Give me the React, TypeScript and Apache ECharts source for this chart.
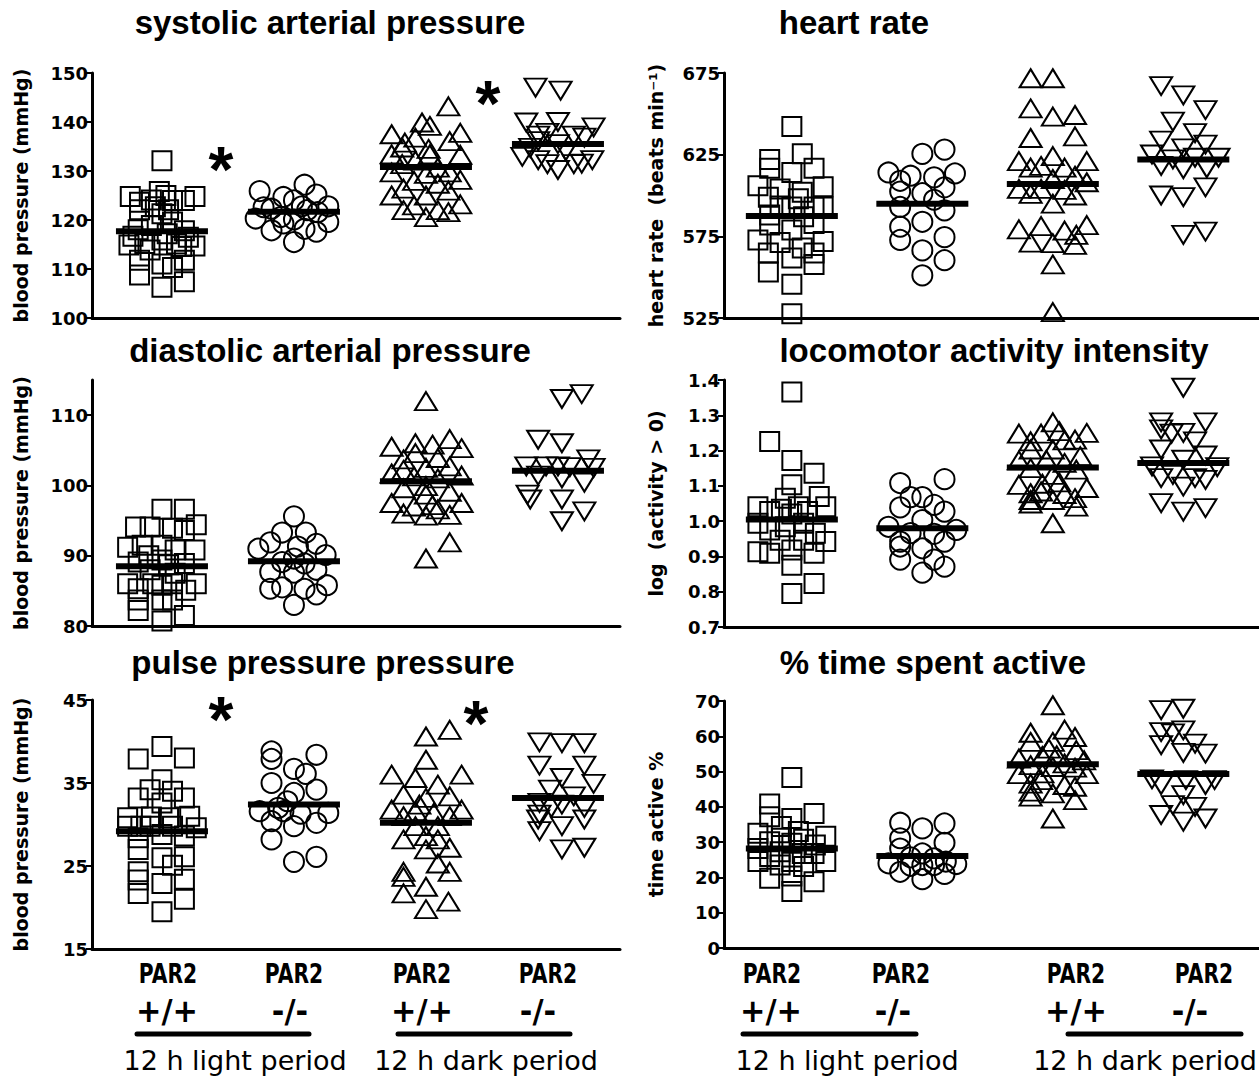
import React, { useEffect, useRef } from "react";
import * as echarts from "echarts";

// ---------- data: [horizontal jitter within group, value] ----------
const sysSq = [[0,132.1],[-0.24,124.8],[0.25,124.8],[-0.02,125.8],[0.03,125.0],[-0.17,123.6],[0.17,124.0],[-0.08,124.1],[0.08,124.0],[0,121.3],[0.08,119.6],[-0.18,118.0],[0.17,117.8],[-0.08,118.9],[-0.25,114.9],[0.25,114.7],[-0.13,115.2],[0,115.9],[0.11,115.1],[-0.09,113.9],[-0.17,111.8],[0.17,111.8],[0,111.0],[0.08,110.3],[-0.17,108.8],[0.17,107.4],[0,106.3],[-0.22,116.7],[0.2,116.5],[0.04,117.2],[-0.17,122.1],[0.15,114.6],[-0.05,122.7],[0.05,122.1]];
const sysCi = [[-0.26,125.9],[0.08,127.2],[0.17,125.2],[-0.08,124.7],[0,124.0],[-0.23,122.6],[0.26,122.8],[-0.17,122.3],[0.06,122.8],[0.18,121.6],[-0.29,120.3],[-0.1,120.6],[0,120.1],[0.26,119.6],[-0.17,117.9],[-0.08,119.3],[0.08,118.2],[0.17,117.6],[0,115.5],[0.1,122.0]];
const sysTu = [[0.17,143.2],[-0.03,139.9],[0.03,139.2],[-0.26,137.5],[-0.08,136.8],[0.26,137.8],[0.18,136.1],[-0.16,135.8],[-0.18,134.8],[0.02,134.5],[-0.26,133.4],[0.26,133.3],[0.03,133.4],[-0.08,132.1],[-0.18,131.4],[0.09,130.7],[0,129.4],[-0.26,129.7],[0.26,128.2],[0.18,129.7],[-0.09,128.0],[0.09,127.4],[-0.17,126.4],[0.17,126.0],[0,125.0],[-0.26,125.0],[-0.09,123.0],[0.26,123.2],[-0.17,122.0],[0.09,122.0],[0.17,121.6],[0,120.6]];
const sysTd = [[-0.17,147.0],[0.02,146.4],[-0.24,139.9],[0,140.0],[0.27,138.9],[-0.15,137.2],[0.12,137.2],[-0.08,137.8],[-0.15,136.1],[0.2,136.8],[0,135.5],[-0.27,132.9],[0.26,132.2],[-0.15,132.2],[-0.08,131.4],[0.12,131.4],[0.18,131.5],[0,130.2],[-0.21,134.7],[0.06,134.1]];
const sysMeans = [117.7, 121.7, 130.8, 135.5];

const hrSq = [[0,642.2],[-0.17,622.1],[0.08,625.5],[-0.17,616.7],[0.17,616.7],[0,614.1],[-0.26,606.0],[0.24,605.4],[-0.09,604.0],[0.08,602.0],[-0.18,599.0],[0.17,593.0],[0,593.0],[0.24,593.0],[-0.17,588.0],[-0.09,593.5],[0.09,587.0],[-0.17,581.9],[0.17,582.9],[0,578.9],[-0.26,572.8],[0.24,571.8],[-0.09,571.2],[0.08,567.8],[-0.18,564.8],[0,561.8],[0.17,557.8],[-0.18,553.1],[0,545.7],[0,527.6],[0.17,564.8],[0.05,598.0]];
const hrCi = [[0,625.5],[0.17,628.1],[-0.26,614.1],[-0.09,612.1],[0.09,611.1],[0.25,613.5],[-0.17,609.0],[0.17,605.0],[-0.17,602.4],[0,601.4],[0.09,597.4],[-0.17,593.0],[0.17,590.9],[0,583.9],[-0.17,580.9],[0.17,574.5],[-0.17,572.8],[0,566.4],[0.17,560.4],[0,551.1]];
const hrTu = [[-0.17,671.8],[0,671.8],[-0.17,653.3],[0,648.3],[0.17,649.3],[-0.17,635.2],[0.17,636.2],[-0.26,621.1],[0,624.1],[0.26,621.1],[-0.17,617.1],[-0.09,618.1],[0.09,617.1],[0.17,612.1],[0,610.1],[0.26,608.1],[-0.26,604.0],[-0.09,604.0],[0.09,603.4],[-0.17,601.0],[0.17,600.0],[0,595.0],[0.26,581.9],[-0.26,579.3],[-0.09,581.3],[0.09,578.5],[0.18,575.9],[-0.17,571.2],[0,570.8],[0.17,569.8],[0,557.8],[0,528.6]];
const hrTd = [[-0.17,667.0],[0,661.3],[0.17,652.3],[-0.08,645.2],[0.09,638.2],[-0.17,633.6],[0.17,631.2],[0,628.8],[-0.24,625.1],[-0.08,622.1],[0.27,623.1],[-0.17,618.1],[0,616.1],[0.18,616.7],[0.09,623.1],[0.17,605.0],[-0.17,600.0],[0,599.0],[0,575.9],[0.17,577.9]];
const hrMeans = [587.5, 595.0, 607.0, 622.1];

const diaSq = [[0,96.6],[0.17,96.6],[-0.2,94.1],[-0.09,94.1],[0.08,93.9],[0.17,93.6],[0.26,94.4],[-0.26,91.2],[-0.15,91.5],[0,91.5],[0.25,90.8],[0.1,90.8],[-0.18,89.1],[0,89.4],[0.17,88.9],[-0.26,86.0],[-0.18,85.3],[0,85.8],[0.08,86.0],[0.26,86.0],[-0.09,88.0],[0.1,87.5],[0.18,85.1],[-0.18,83.7],[0,83.7],[0.08,83.7],[-0.18,82.2],[0.17,81.5],[0,80.7],[-0.1,90.0],[0.05,88.7],[-0.07,86.0]];
const diaCi = [[0,95.6],[-0.09,93.3],[0.09,93.3],[-0.18,91.9],[-0.27,91.0],[0.17,91.7],[0.03,91.3],[0.24,90.1],[0,89.6],[-0.09,89.1],[-0.18,87.7],[0.08,88.9],[0.17,88.0],[0,87.6],[-0.18,85.3],[-0.09,85.5],[0.08,85.3],[0.25,85.8],[0.17,84.5],[0,83.0]];
const diaTu = [[0,112.0],[0.18,106.6],[-0.08,106.0],[0.05,105.8],[-0.26,105.5],[0.27,105.3],[-0.08,104.6],[0.09,103.9],[-0.17,103.7],[0.18,102.7],[0,102.5],[-0.17,102.2],[-0.26,101.7],[0.27,101.4],[-0.09,101.3],[0.09,101.0],[-0.17,99.6],[0,99.9],[0.18,99.1],[0,98.7],[-0.26,97.5],[0.27,97.5],[-0.09,97.0],[0.09,96.6],[-0.17,96.0],[0,95.7],[0.18,95.8],[0.18,91.9],[0,89.6],[0.05,97.2]];
const diaTd = [[0.03,112.3],[0.18,113.0],[-0.15,106.5],[0.03,106.0],[-0.24,102.7],[-0.09,102.7],[0,102.7],[0.09,102.6],[0.23,103.7],[0.27,102.5],[-0.15,101.4],[0.03,101.0],[0.2,100.4],[-0.23,98.7],[-0.21,98.0],[0.03,98.0],[0.2,96.3],[0.03,94.9]];
const diaMeans = [88.5, 89.2, 100.6, 102.1];

const locSq = [[0,1.366],[-0.17,1.226],[0,1.172],[0.17,1.136],[0,1.103],[-0.05,1.065],[0.21,1.07],[-0.26,1.041],[0.26,1.041],[-0.17,1.027],[-0.08,1.034],[0.05,1.041],[0.12,1.027],[0,1.02],[-0.26,0.994],[0.09,0.994],[-0.17,0.975],[-0.09,0.946],[0.09,0.946],[0.26,0.942],[-0.26,0.913],[-0.17,0.909],[0,0.918],[0.17,0.909],[0,0.875],[0.17,0.823],[0,0.795],[0.18,0.966],[-0.05,0.984]];
const locCi = [[-0.17,1.108],[0.17,1.119],[0,1.068],[-0.09,1.068],[0.09,1.046],[-0.17,1.039],[0.17,1.027],[0,1.003],[-0.26,0.984],[0.26,0.975],[-0.09,0.966],[0.09,0.964],[-0.17,0.942],[0.17,0.942],[0,0.923],[-0.17,0.891],[0.09,0.891],[0.17,0.871],[0,0.854],[-0.17,0.928]];
const locTu = [[0,1.28],[0.05,1.255],[-0.26,1.248],[-0.09,1.248],[0.26,1.25],[-0.17,1.226],[0.09,1.229],[0.17,1.231],[-0.17,1.203],[0,1.203],[0.21,1.184],[-0.26,1.172],[-0.05,1.174],[0.09,1.165],[-0.17,1.15],[0.18,1.146],[0,1.131],[-0.26,1.103],[-0.08,1.106],[0.05,1.11],[0.26,1.094],[-0.17,1.079],[-0.09,1.084],[0.09,1.077],[-0.17,1.06],[0,1.06],[0.17,1.065],[0.18,1.041],[0,0.994],[-0.17,1.05]];
const locTd = [[0,1.378],[-0.17,1.28],[0.17,1.28],[-0.17,1.26],[-0.09,1.248],[0,1.25],[0.09,1.226],[-0.17,1.203],[0,1.174],[0.17,1.186],[-0.24,1.155],[0.26,1.153],[-0.17,1.122],[-0.08,1.131],[0.09,1.122],[0.17,1.117],[0,1.098],[-0.17,1.051],[0,1.027],[0.17,1.037]];
const locMeans = [1.005, 0.98, 1.152, 1.165];

const ppSq = [[0,39.4],[-0.18,37.9],[0.17,38.0],[0,35.4],[-0.09,34.2],[0.08,34.0],[-0.18,33.2],[0.17,33.2],[0,32.6],[-0.26,30.8],[-0.08,30.9],[0.05,30.8],[0.21,31.0],[-0.16,29.8],[0.08,29.8],[0.26,29.6],[0,28.8],[-0.18,28.4],[0.17,28.6],[-0.18,27.0],[0,26.0],[0.17,26.1],[0.08,25.1],[-0.18,24.3],[-0.18,23.3],[0.17,23.4],[0,22.9],[-0.18,21.7],[0.17,21.0],[0,19.5],[-0.09,29.8],[-0.26,29.8]];
const ppCi = [[-0.17,38.8],[-0.17,37.9],[0.17,38.4],[0,36.7],[0.09,36.1],[-0.17,35.0],[0.17,34.2],[0,33.8],[-0.05,32.8],[-0.26,31.6],[-0.12,32.0],[0.05,31.3],[0.26,31.4],[-0.17,30.4],[0,29.8],[0.17,30.2],[-0.17,28.2],[0,25.5],[0.17,26.1],[-0.08,31.6]];
const ppTu = [[0.18,41.4],[0,40.6],[0,37.8],[-0.26,36.0],[-0.08,35.6],[0.27,36.0],[0.09,34.8],[-0.17,33.6],[0.18,33.4],[0,33.2],[-0.05,32.4],[-0.26,31.8],[-0.08,31.6],[0.27,31.8],[0.06,31.4],[-0.17,31.0],[0.18,31.0],[-0.08,29.8],[0.09,29.8],[-0.17,28.2],[0,28.6],[0.09,28.2],[0,27.0],[0.18,27.2],[0.09,25.3],[-0.17,24.3],[-0.17,23.7],[0.18,24.3],[0,22.5],[-0.17,21.7],[0.17,20.7],[0,19.8]];
const ppTd = [[-0.14,39.9],[0.03,39.8],[0.2,39.8],[-0.14,37.1],[0.2,37.1],[0.03,35.6],[0.27,34.9],[-0.06,34.2],[0.12,33.4],[-0.14,32.6],[0.03,32.4],[-0.05,32.0],[0.2,32.0],[-0.14,31.2],[-0.15,30.6],[0.2,30.6],[0.03,29.8],[-0.14,29.2],[0.03,27.0],[0.2,27.2]];
const ppMeans = [29.2, 32.4, 30.2, 33.2];

const taSq = [[0,48.3],[-0.17,40.8],[-0.17,37.2],[0,36.7],[0.17,38.1],[-0.26,32.5],[-0.08,34.4],[0.05,33.0],[0.26,31.7],[-0.17,30.1],[0.09,30.8],[0,29.7],[-0.26,28.2],[0.18,29.2],[-0.09,27.3],[0.08,26.8],[-0.17,25.9],[0.26,24.5],[-0.26,24.5],[0,24.5],[-0.09,23.5],[0.09,23.1],[-0.17,19.8],[0.17,18.8],[0,20.4],[0,16.0],[0.17,26.8],[-0.08,31.1]];
const taCi = [[-0.17,35.5],[0,33.9],[0.17,35.3],[-0.17,31.1],[0.17,29.8],[-0.17,28.2],[0,26.8],[-0.09,25.7],[0.09,25.4],[-0.26,24.0],[0.26,23.8],[-0.17,21.6],[-0.09,23.3],[0.09,23.5],[0.17,21.0],[0,19.5],[0.18,24.5],[0,23.5]];
const taTu = [[0,68.8],[-0.17,61.0],[0.09,61.9],[0.17,59.8],[-0.17,58.4],[0,58.4],[-0.03,56.5],[0.18,56.1],[-0.26,53.7],[-0.08,54.4],[0.03,54.6],[0.24,53.2],[-0.17,51.8],[0,51.3],[0.17,51.1],[-0.26,49.3],[-0.08,49.5],[0.26,49.3],[-0.17,46.6],[0.09,46.2],[-0.09,47.6],[-0.17,44.3],[-0.17,42.9],[0,43.8],[0.17,41.9],[0.17,45.7],[0,36.7],[0.09,52.3]];
const taTd = [[-0.17,67.4],[0,67.8],[-0.17,61.2],[0,61.7],[-0.08,60.8],[-0.17,57.5],[0.09,57.9],[0,55.3],[0.17,55.1],[-0.24,47.8],[-0.17,46.2],[0.02,47.6],[0.17,46.2],[0.24,47.6],[0,43.3],[-0.08,40.5],[0.09,40.0],[-0.17,37.7],[0,35.8],[0.17,36.7]];
const taMeans = [28.2, 26.1, 52.1, 49.3];

const titles = ["systolic arterial pressure", "heart rate", "diastolic arterial pressure", "locomotor activity intensity", "pulse pressure pressure", "% time spent active"];
const yNames = ["blood pressure (mmHg)", "heart rate  (beats min\u207B\u00B9)", "blood pressure (mmHg)", "log  (activity > 0)", "blood pressure (mmHg)", "time active %"];
const yTicks = [[100,110,120,130,140,150],[525,575,625,675],[80,90,100,110],[0.7,0.8,0.9,1.0,1.1,1.2,1.3,1.4],[15,25,35,45],[0,10,20,30,40,50,60,70]];
const yRange = [[100,150],[525,675],[80,115],[0.7,1.4],[15,45],[0,70]];
const groupLabelTop = "PAR2";
const genotypes = ["+/+", "-/-", "+/+", "-/-"];
const periods = ["12 h light period", "12 h dark period"];

const panelGroups = [
  [sysSq, sysCi, sysTu, sysTd],
  [hrSq, hrCi, hrTu, hrTd],
  [diaSq, diaCi, diaTu, diaTd],
  [locSq, locCi, locTu, locTd],
  [ppSq, ppCi, ppTu, ppTd],
  [taSq, taCi, taTu, taTd],
];
const panelMeans = [sysMeans, hrMeans, diaMeans, locMeans, ppMeans, taMeans];

// ---------- layout ----------
const grids = [
  { left: 92, top: 73, width: 528, height: 245 },
  { left: 724, top: 73, width: 535, height: 245 },
  { left: 92, top: 380, width: 528, height: 246 },
  { left: 724, top: 380, width: 535, height: 247 },
  { left: 92, top: 700, width: 528, height: 249 },
  { left: 724, top: 701, width: 535, height: 247 },
];
const xRanges = [[0.47, 4.47], [0.48, 4.58]];
const titlePos = [[330, 22], [854, 22], [330, 350], [994, 350], [323, 662], [933, 662]];
const SYMS = ["rect", "circle", "triangle", "triangle"];
const SIZES: any[] = [19, 20, [22, 18], [22, 18]];

const FONT = '"DejaVu Sans", sans-serif';
const TFONT = '"Liberation Sans", Arial, sans-serif';

function buildOption() {
  const xAxis: any[] = [];
  const yAxis: any[] = [];
  const series: any[] = [];
  const graphic: any[] = [];

  grids.forEach((g, i) => {
    const xr = xRanges[i % 2];
    xAxis.push({
      type: "value", gridIndex: i, min: xr[0], max: xr[1],
      axisLine: { show: true, onZero: false, lineStyle: { color: "#000", width: 3 } },
      axisTick: { show: false }, axisLabel: { show: false }, splitLine: { show: false },
    });
    const ticks = yTicks[i];
    yAxis.push({
      type: "value", gridIndex: i, min: yRange[i][0], max: yRange[i][1],
      interval: i === 3 ? 0.1 : (ticks[1] - ticks[0]),
      axisLine: { show: true, onZero: false, lineStyle: { color: "#000", width: 3 } },
      axisTick: { show: true, length: 6, lineStyle: { color: "#000", width: 2 }, customValues: ticks },
      axisLabel: {
        show: true, color: "#000", fontSize: 18, fontWeight: "bold", fontFamily: FONT, margin: 4,
        customValues: ticks,
        formatter: (v: number) => (i === 3 ? v.toFixed(1) : String(Math.round(v))),
      },
      splitLine: { show: false },
      name: yNames[i], nameLocation: "middle", nameGap: i % 2 === 0 ? 62 : 59, nameRotate: 90,
      nameTextStyle: { color: "#000", fontSize: 19, fontWeight: "bold", fontFamily: FONT },
    });

    panelGroups[i].forEach((grp, gi) => {
      series.push({
        type: "scatter", xAxisIndex: i, yAxisIndex: i, silent: true, z: 2,
        symbol: SYMS[gi], symbolSize: SIZES[gi], symbolRotate: gi === 3 ? 180 : 0,
        itemStyle: { color: "rgba(0,0,0,0)", borderColor: "#000", borderWidth: 2, opacity: 1 },
        emphasis: { disabled: true },
        data: grp.map(([dx, v]) => [gi + 1 + dx, v]),
      });
    });
    series.push({
      type: "scatter", xAxisIndex: i, yAxisIndex: i, silent: true, z: 3,
      symbol: "rect", symbolSize: [92, 6],
      itemStyle: { color: "#000", opacity: 1 }, emphasis: { disabled: true },
      data: panelMeans[i].map((m, gi) => [gi + 1, m]),
    });

    graphic.push({
      type: "text", x: titlePos[i][0], y: titlePos[i][1],
      style: { text: titles[i], fill: "#000", font: `bold 33px ${TFONT}`, align: "center", verticalAlign: "middle", textAlign: "center", textVerticalAlign: "middle" },
    });
  });

  // significance stars
  const stars = [[221, 158], [488, 92], [221, 708], [476, 712]];
  stars.forEach(([x, y]) => {
    graphic.push({
      type: "text", x, y: y + 12,
      style: { text: "*", fill: "#000", font: `bold 64px ${TFONT}`, align: "center", verticalAlign: "middle", textAlign: "center", textVerticalAlign: "middle" },
    });
  });

  // bottom group labels
  const parX = [168, 294, 422, 548, 772, 901, 1076, 1204];
  const genoX = [167, 290, 422, 538, 771, 893, 1076, 1190];
  parX.forEach((x, k) => {
    graphic.push({
      type: "text", x, y: 974, scaleX: 0.78,
      style: { text: groupLabelTop, fill: "#000", font: `bold 26px ${FONT}`, align: "center", verticalAlign: "middle", textAlign: "center", textVerticalAlign: "middle" },
    });
    graphic.push({
      type: "text", x: genoX[k], y: 1011, scaleX: 0.95,
      style: { text: genotypes[k % 4], fill: "#000", font: `bold 32px ${FONT}`, align: "center", verticalAlign: "middle", textAlign: "center", textVerticalAlign: "middle" },
    });
  });
  const lines = [[137, 309], [398, 570], [743, 916], [1068, 1241]];
  lines.forEach(([x1, x2]) => {
    graphic.push({ type: "line", shape: { x1, y1: 1034, x2, y2: 1034 }, style: { stroke: "#000", lineWidth: 5, lineCap: "round" } });
  });
  const perX = [235, 486, 847, 1145];
  perX.forEach((x, k) => {
    graphic.push({
      type: "text", x, y: 1060, scaleX: 1.0,
      style: { text: periods[k % 2], fill: "#000", font: `27px ${FONT}`, align: "center", verticalAlign: "middle", textAlign: "center", textVerticalAlign: "middle" },
    });
  });

  return {
    animation: false,
    backgroundColor: "#fff",
    grid: grids.map((g) => ({ ...g, containLabel: false })),
    xAxis, yAxis, series, graphic,
  };
}

export default function App() {
  const ref = useRef<HTMLDivElement>(null);
  useEffect(() => {
    if (!ref.current) return;
    const chart = echarts.init(ref.current, null, { renderer: "svg" });
    chart.setOption(buildOption() as any);
    return () => chart.dispose();
  }, []);
  return <div ref={ref} style={{ position: "absolute", left: 0, top: 0, width: 1259, height: 1078, background: "#fff" }} />;
}
